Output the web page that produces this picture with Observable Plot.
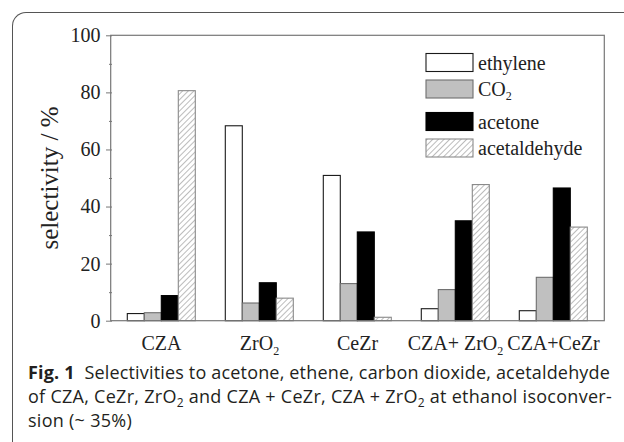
<!DOCTYPE html>
<html>
<head>
<meta charset="utf-8">
<script src="https://cdn.jsdelivr.net/npm/d3@7"></script>
<script src="https://cdn.jsdelivr.net/npm/@observablehq/plot@0.6"></script>
<style>
  html, body { margin: 0; padding: 0; background: white; }
  #wrap { position: relative; width: 624px; height: 442px; overflow: hidden; }
  #border { position: absolute; left: 12px; top: 12px; width: 800px; height: 600px;
    border-left: 1.5px solid #555; border-top: 1.5px solid #555; border-top-left-radius: 14px;
    pointer-events: none; box-sizing: border-box; }
  #chart { position: absolute; left: 0; top: 0; width: 624px; }
  #caption { position: absolute; left: 28px; top: 360px; width: 620px; font-family: "Open Sans", sans-serif;
    font-size: 18px; line-height: 24px; color: #231f20; }
  #caption .row { display: block; height: 24px; }
  #caption .ln { white-space: nowrap; display: inline-block; }
  #caption b { font-weight: 700; }
  #caption sub { font-size: 12px; vertical-align: -4px; line-height: 0; }
</style>
</head>
<body>
<div id="wrap">
  <div id="chart"></div>
  <div id="border"></div>
  <div id="caption">
    <div class="row"><span class="ln" data-w="582"><b>Fig. 1</b>&nbsp; Selectivities to acetone, ethene, carbon dioxide, acetaldehyde</span></div>
    <div class="row"><span class="ln" data-w="584">of CZA, CeZr, ZrO<sub>2</sub> and CZA + CeZr, CZA + ZrO<sub>2</sub> at ethanol isoconver-</span></div>
    <div class="row"><span class="ln" data-r="1">sion (~ 35%)</span></div>
  </div>
</div>
<script>
const categories = ["CZA", "ZrO2", "CeZr", "CZA+ ZrO2", "CZA+CeZr"];
const series = ["ethylene", "CO2", "acetone", "acetaldehyde"];
const ethylene = [2.5, 68.3, 50.9, 4.2, 3.5];
const co2 = [2.8, 6.2, 13.0, 10.9, 15.2];
const acetone = [8.8, 13.3, 31.1, 35.0, 46.5];
const acetaldehyde = [80.6, 7.9, 1.2, 47.7, 32.8];
const yMajor = [0, 20, 40, 60, 80, 100];
const yMinor = [10, 30, 50, 70, 90];

const seriesValues = [ethylene, co2, acetone, acetaldehyde];
const fills = ["white", "#c0c0c0", "black", "url(#hatch)"];
const strokes = ["#1a1a1a", "#6e6e6e", "black", "#8a8a8a"];

const data = [];
categories.forEach((c, i) => series.forEach((s, j) => data.push({cat: c, s, v: seriesValues[j][i]})));

const W = 624, H = 358, ML = 110.7, MR = 19.7, MT = 35.3, MB = 37.3;

const plot = Plot.plot({
  width: W, height: H,
  marginLeft: ML, marginRight: MR, marginTop: MT, marginBottom: MB,
  style: {background: "transparent", fontFamily: "'Liberation Serif', 'Times New Roman', serif", overflow: "visible", color: "#222"},
  fx: {domain: categories, padding: 0, label: null},
  x: {domain: series, paddingInner: 0, paddingOuter: 0.85, axis: null},
  y: {domain: [0, 100], label: null},
  marks: [
    ...series.map((s, j) => Plot.barY(data.filter(d => d.s === s), {
      fx: "cat", x: "s", y: "v", fill: fills[j], stroke: strokes[j], strokeWidth: 1.1
    })),
    Plot.axisY({ticks: yMajor, tickSize: 6, tickPadding: 6, fontSize: 20, label: null, stroke: "#777", fill: "#222"}),
    Plot.axisY({ticks: yMinor, tickSize: 3, tickFormat: () => "", label: null, stroke: "#777"}),
    Plot.axisFx({anchor: "bottom", tickSize: 0, tickPadding: 15, fontSize: 20, label: null, fill: "#222"})
  ]
});
document.getElementById("chart").appendChild(plot);

const svg = d3.select(plot.tagName.toLowerCase() === "svg" ? plot : plot.querySelector("svg"));

// hatch pattern
const defs = svg.insert("defs", ":first-child");
const pat = defs.append("pattern").attr("id", "hatch").attr("patternUnits", "userSpaceOnUse")
  .attr("width", 4).attr("height", 4).attr("patternTransform", "rotate(45)");
pat.append("rect").attr("width", 4).attr("height", 4).attr("fill", "white");
pat.append("line").attr("x1", 0).attr("y1", 0).attr("x2", 0).attr("y2", 4)
  .attr("stroke", "#8f8f8f").attr("stroke-width", 1.2);

// subscripts for "O2"
function subscript(sel) {
  sel.each(function () {
    const t = this.textContent;
    if (/O2$/.test(t)) {
      const base = t.slice(0, -1);
      d3.select(this).text(null);
      d3.select(this).append("tspan").text(base);
      d3.select(this).append("tspan").attr("dy", "0.35em").attr("font-size", "0.6em").text("2");
    }
  });
}
subscript(svg.selectAll("text"));

// frame
svg.append("rect").attr("x", ML).attr("y", MT).attr("width", W - ML - MR).attr("height", H - MT - MB)
  .attr("fill", "none").attr("stroke", "#777").attr("stroke-width", 1.2);

// y-axis title
svg.append("text").attr("transform", `translate(49,${(MT + H - MB) / 2}) rotate(-90)`)
  .attr("text-anchor", "middle").attr("dy", "0.35em")
  .attr("font-size", 25).attr("fill", "#222").text("selectivity / %");

// legend
const legendLabels = ["ethylene", "CO2", "acetone", "acetaldehyde"];
const legendY = [53.5, 80, 112.5, 139];
const lg = svg.append("g").attr("font-size", 20).attr("fill", "#222").attr("text-anchor", "start");
legendLabels.forEach((lab, j) => {
  lg.append("rect").attr("x", 426).attr("y", legendY[j]).attr("width", 47).attr("height", 18)
    .attr("fill", fills[j]).attr("stroke", strokes[j]).attr("stroke-width", 1.1);
  const t = lg.append("text").attr("x", 478).attr("y", legendY[j] + 9).attr("dy", "0.35em")
    .attr("text-anchor", "start").text(lab);
  subscript(t);
});

// fit caption lines (condense like the journal font)
let ls = 0;
document.querySelectorAll("#caption .ln[data-w]").forEach(el => {
  const target = +el.dataset.w;
  const w = el.getBoundingClientRect().width;
  const n = el.textContent.length;
  const v = (target - w) / n;
  el.style.letterSpacing = v + "px";
  ls = v;
});
document.querySelectorAll("#caption .ln[data-r]").forEach(el => { el.style.letterSpacing = ls + "px"; });
</script>
</body>
</html>
